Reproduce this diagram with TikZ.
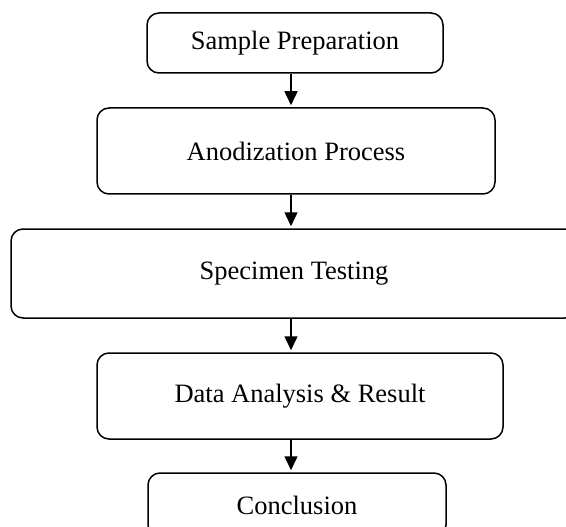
\documentclass[tikz,border=0pt]{standalone}
\usepackage{fontspec}
\setmainfont{Liberation Serif}
\usetikzlibrary{arrows.meta}

\tikzset{
  stage/.style={draw, line width=1.5pt, rounded corners=12pt, align=center,
    inner sep=0pt, font=\fontsize{26.5}{30}\selectfont},
  flow/.style={line width=1.5pt, -{Triangle[width=13pt,length=14pt]}, shorten >=2pt}
}

\begin{document}
\begin{tikzpicture}[x=1pt, y=-1pt]
        \useasboundingbox (0,0) rectangle (566,527);
        \coordinate (axis) at (291,0);
        \node[stage, minimum width=296pt, minimum height=60pt] (prep) at (295,43) {Sample Preparation};
        \node[stage, minimum width=398pt, minimum height=86pt] (anod) at (296,151) {Anodization Process};
        \node[stage, minimum width=566pt, minimum height=89pt] (test) at (294,273.5) {Specimen Testing};
        \node[stage, minimum width=406pt, minimum height=86pt] (data) at (300,396) {Data Analysis \& Result};
        \node[stage, minimum width=298pt, minimum height=64pt] (concl) at (297,505) {Conclusion};
        \draw[flow] (prep.south -| axis) -- (anod.north -| axis);
        \draw[flow] (anod.south -| axis) -- (test.north -| axis);
        \draw[flow] (test.south -| axis) -- (data.north -| axis);
        \draw[flow] (data.south -| axis) -- (concl.north -| axis);
    \end{tikzpicture}
\end{document}
